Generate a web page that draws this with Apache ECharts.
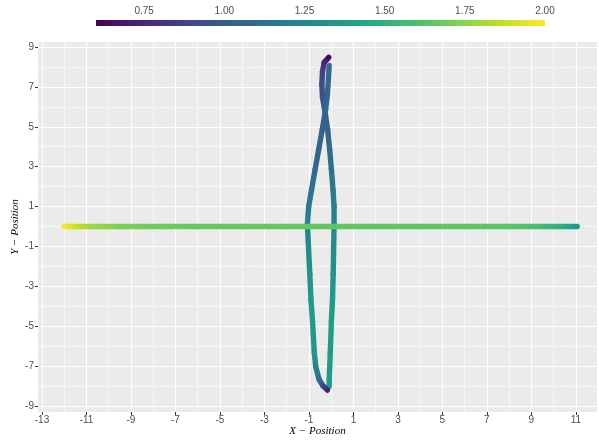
<!DOCTYPE html>
<html>
<head>
<meta charset="utf-8">
<script src="https://cdn.jsdelivr.net/npm/echarts@6/dist/echarts.min.js"></script>
<style>html,body{margin:0;padding:0;background:#fff}#c{width:599px;height:440px}</style>
</head>
<body>
<div id="c"></div>
<script>
// ---- tick labels ----
const xTicks = [-13, -11, -9, -7, -5, -3, -1, 1, 3, 5, 7, 9, 11];
const xMinor = [-12, -10, -8, -6, -4, -2, 0, 2, 4, 6, 8, 10];
const yTicks = [-9, -7, -5, -3, -1, 1, 3, 5, 7, 9];
const yMinor = [-8, -6, -4, -2, 0, 2, 4, 6, 8];
const cbTicks = [0.75, 1.00, 1.25, 1.50, 1.75, 2.00];
const cbRange = [0.6, 2.0];

// ---- horizontal trajectory ----
const hX = [-12, -11.7, -11.3, -10.9, -10.4, -9.5, -8.5, -7.5, -6, -4, -2, 0, 2, 4, 6, 7, 8, 8.9, 9.7, 10.3, 10.7, 11.06];
const hY = [0, 0, 0, 0, 0, 0, 0, 0, 0, 0, 0, 0, 0, 0, 0, 0, 0, 0, 0, 0, 0, 0];
const hV = [2.0, 1.93, 1.86, 1.81, 1.77, 1.72, 1.70, 1.68, 1.67, 1.66, 1.66, 1.65, 1.65, 1.65, 1.65, 1.64, 1.63, 1.61, 1.54, 1.50, 1.42, 1.34];

// ---- vertical trajectory, strand A (apex -> top-left -> bottom-right end) ----
const aX = [-0.11, -0.31, -0.39, -0.42, -0.39, -0.31, -0.16, -0.07, 0.01, 0.08, 0.13, 0.13, 0.09, 0.06, 0.01, -0.04, -0.09, -0.09];
const aY = [8.48, 8.23, 7.78, 7.13, 6.48, 5.98, 4.87, 3.87, 2.87, 1.86, 1.01, 0.11, -2.40, -3.65, -4.74, -6.31, -7.67, -8.02];
const aV = [0.62, 0.75, 0.85, 0.92, 0.95, 0.98, 1.04, 1.08, 1.12, 1.17, 1.20, 1.25, 1.33, 1.36, 1.37, 1.37, 1.36, 1.35];

// ---- vertical trajectory, strand B (top-right end -> bottom-left -> bottom hook) ----
const bX = [-0.09, -0.12, -0.17, -0.25, -0.40, -0.56, -0.72, -0.88, -1.01, -1.07, -0.96, -0.91, -0.84, -0.76, -0.69, -0.54, -0.36, -0.17];
const bY = [8.08, 7.48, 6.63, 5.88, 4.87, 3.87, 2.87, 1.86, 1.01, 0.11, -2.40, -3.65, -4.74, -6.31, -7.06, -7.67, -8.00, -8.20];
const bV = [1.07, 1.07, 1.06, 1.05, 1.05, 1.06, 1.08, 1.12, 1.17, 1.22, 1.32, 1.35, 1.36, 1.33, 1.25, 1.10, 0.90, 0.72];

const VIRIDIS = ['#440154','#482475','#414487','#355F8D','#2A788E','#21908D','#22A884','#42BE71','#7AD151','#BDDF26','#FDE725'];
function hex2rgb(h){return [parseInt(h.substr(1,2),16),parseInt(h.substr(3,2),16),parseInt(h.substr(5,2),16)];}
function colorOf(v){
  let t = (v - cbRange[0]) / (cbRange[1] - cbRange[0]);
  t = Math.max(0, Math.min(1, t));
  const p = t * (VIRIDIS.length - 1);
  const i = Math.min(VIRIDIS.length - 2, Math.floor(p));
  const f = p - i;
  const c0 = hex2rgb(VIRIDIS[i]), c1 = hex2rgb(VIRIDIS[i + 1]);
  const c = c0.map((a, k) => Math.round(a + (c1[k] - a) * f));
  return 'rgb(' + c.join(',') + ')';
}
function segments(xs, ys, vs){
  const out = [];
  for (let i = 0; i < xs.length - 1; i++) out.push([xs[i], ys[i], vs[i], xs[i+1], ys[i+1], vs[i+1]]);
  return out;
}
function segRender(params, api){
  const p1 = api.coord([api.value(0), api.value(1)]);
  const p2 = api.coord([api.value(3), api.value(4)]);
  const c1 = colorOf(api.value(2)), c2 = colorOf(api.value(5));
  return {
    type: 'line',
    shape: {x1: p1[0], y1: p1[1], x2: p2[0], y2: p2[1]},
    style: {
      stroke: new echarts.graphic.LinearGradient(p1[0], p1[1], p2[0], p2[1], [{offset: 0, color: c1}, {offset: 1, color: c2}], true),
      lineWidth: 5.4, lineCap: 'round'
    }
  };
}

const FONT = 'Liberation Sans';
const HIDDEN_TICK = {show: false, lineStyle: {color: 'rgba(0,0,0,0)'}};
const chart = echarts.init(document.getElementById('c'), null, {renderer: 'canvas'});
const option = {
  animation: false,
  backgroundColor: '#FFFFFF',
  grid: [
    {left: 38, right: 2, top: 42, bottom: 28, show: true, backgroundColor: '#EBEBEB', borderWidth: 0, containLabel: false, outerBoundsMode: 'none'},
    {left: 96, width: 449, top: 20, height: 6, show: false, containLabel: false, outerBoundsMode: 'none'}
  ],
  xAxis: [
    {
      gridIndex: 0, type: 'value', position: 'bottom', min: -13.18, max: 11.95,
      axisLine: {show: false, onZero: false},
      axisTick: {show: true, customValues: xTicks, length: 3, lineStyle: {color: '#333333', width: 1}},
      axisLabel: {customValues: xTicks, color: '#4D4D4D', fontSize: 10, fontFamily: FONT, margin: 3},
      splitLine: {show: true, lineStyle: {color: '#FFFFFF', width: 1.1}},
      name: 'X \u2212 Position', nameLocation: 'middle', nameGap: 14, nameMoveOverlap: false,
      nameTextStyle: {fontFamily: 'Liberation Serif', fontStyle: 'italic', fontSize: 11, color: '#000'}
    },
    {
      gridIndex: 0, type: 'value', position: 'top', min: -13.18, max: 11.95,
      axisLine: {show: false, onZero: false},
      axisTick: Object.assign({customValues: xMinor}, HIDDEN_TICK),
      axisLabel: {show: false, customValues: xMinor},
      splitLine: {show: true, lineStyle: {color: '#FFFFFF', width: 0.55}}
    },
    {
      gridIndex: 1, type: 'value', position: 'top', min: cbRange[0], max: cbRange[1],
      axisLine: {show: false, onZero: false},
      axisTick: {show: true, inside: true, length: 1.5, customValues: cbTicks, lineStyle: {color: '#FFFFFF', width: 1}},
      axisLabel: {customValues: cbTicks, formatter: v => Number(v).toFixed(2), color: '#4D4D4D', fontSize: 10, fontFamily: FONT, margin: 4},
      splitLine: {show: false}
    },
    {
      gridIndex: 1, type: 'value', position: 'bottom', min: cbRange[0], max: cbRange[1],
      axisLine: {show: false, onZero: false},
      axisTick: {show: true, inside: true, length: 1.5, customValues: cbTicks, lineStyle: {color: '#FFFFFF', width: 1}},
      axisLabel: {show: false},
      splitLine: {show: false}
    }
  ],
  yAxis: [
    {
      gridIndex: 0, type: 'value', position: 'left', min: -9.3, max: 9.25,
      axisLine: {show: false, onZero: false},
      axisTick: {show: true, customValues: yTicks, length: 3, lineStyle: {color: '#333333', width: 1}},
      axisLabel: {customValues: yTicks, color: '#4D4D4D', fontSize: 10, fontFamily: FONT, margin: 4},
      splitLine: {show: true, lineStyle: {color: '#FFFFFF', width: 1.1}},
      name: 'Y \u2212 Position', nameLocation: 'middle', nameGap: 17, nameRotate: 90, nameMoveOverlap: false,
      nameTextStyle: {fontFamily: 'Liberation Serif', fontStyle: 'italic', fontSize: 11, color: '#000'}
    },
    {
      gridIndex: 0, type: 'value', position: 'right', min: -9.3, max: 9.25,
      axisLine: {show: false, onZero: false},
      axisTick: Object.assign({customValues: yMinor}, HIDDEN_TICK),
      axisLabel: {show: false, customValues: yMinor},
      splitLine: {show: true, lineStyle: {color: '#FFFFFF', width: 0.55}}
    },
    {gridIndex: 1, type: 'value', min: 0, max: 1, show: false}
  ],
  series: [
    {type: 'custom', xAxisIndex: 0, yAxisIndex: 0, renderItem: segRender, data: segments(aX, aY, aV).concat(segments(bX, bY, bV)), z: 3},
    {type: 'custom', xAxisIndex: 0, yAxisIndex: 0, renderItem: segRender, data: segments(hX, hY, hV), z: 4},
    {
      type: 'custom', xAxisIndex: 2, yAxisIndex: 2, z: 1,
      data: [[cbRange[0], 0, cbRange[1], 1]],
      renderItem: function(params, api){
        const p1 = api.coord([api.value(0), api.value(1)]);
        const p2 = api.coord([api.value(2), api.value(3)]);
        const stops = VIRIDIS.map((c, i) => ({offset: i / (VIRIDIS.length - 1), color: c}));
        return {
          type: 'rect',
          shape: {x: p1[0], y: p2[1], width: p2[0] - p1[0], height: p1[1] - p2[1]},
          style: {fill: new echarts.graphic.LinearGradient(0, 0, 1, 0, stops)}
        };
      }
    }
  ]
};
chart.setOption(option);
</script>
</body>
</html>
